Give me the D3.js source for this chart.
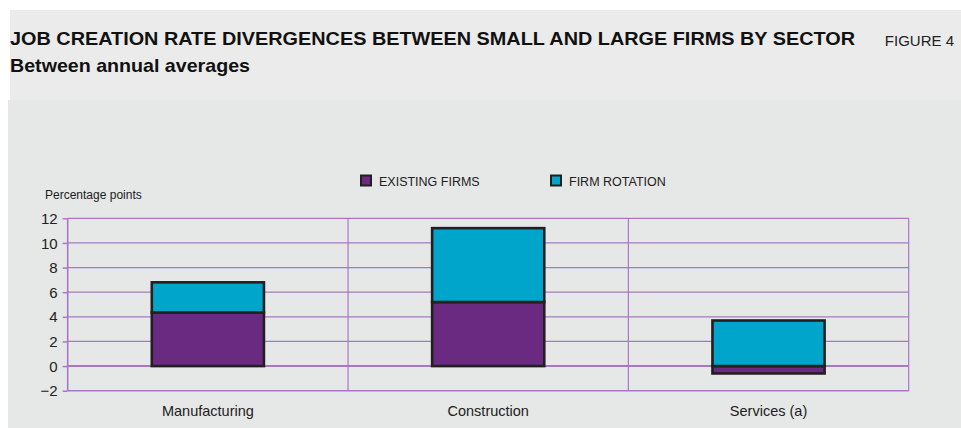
<!DOCTYPE html>
<html><head><meta charset="utf-8">
<script src="https://cdn.jsdelivr.net/npm/d3@7"></script>
<style>
html,body{margin:0;padding:0;background:#fff;}
svg{display:block;}
text{font-family:"Liberation Sans",Arial,sans-serif;}
</style></head>
<body>
<svg id="c" width="961" height="428"></svg>
<script>
const categories = ["Manufacturing", "Construction", "Services (a)"];
const existingFirms = [4.35, 5.2, -0.6];
const firmRotation = [2.45, 6.0, 3.7];
const yTicks = [-2, 0, 2, 4, 6, 8, 10, 12];
const seriesNames = ["EXISTING FIRMS", "FIRM ROTATION"];
const seriesColors = ["#6a2a82", "#00a5cb"];

const svg = d3.select("#c");
// backgrounds
svg.append("rect").attr("x",10).attr("y",10).attr("width",951).attr("height",90).attr("fill","#ebebeb");
svg.append("rect").attr("x",8).attr("y",100).attr("width",953).attr("height",328).attr("fill","#e6e7e7");

// titles
svg.append("text").attr("x",10).attr("y",45).attr("font-size",19).attr("font-weight","bold").attr("fill","#111")
  .attr("textLength",845).attr("lengthAdjust","spacingAndGlyphs")
  .text("JOB CREATION RATE DIVERGENCES BETWEEN SMALL AND LARGE FIRMS BY SECTOR");
svg.append("text").attr("x",954).attr("y",46).attr("font-size",15).attr("fill","#222")
  .attr("text-anchor","end").text("FIGURE 4");
svg.append("text").attr("x",10).attr("y",72).attr("font-size",18.5).attr("font-weight","bold").attr("fill","#111")
  .attr("textLength",240).attr("lengthAdjust","spacingAndGlyphs").text("Between annual averages");

const left = 67.7, right = 908.7;
const x = d3.scaleBand().domain(categories).range([left, right]).paddingInner(0).paddingOuter(0);
const y = d3.scaleLinear().domain([-2, 12]).range([390.7, 218.3]);
const gridColor = "#a878c4";

// horizontal gridlines
const g = svg.append("g");
g.selectAll("line.h").data(yTicks).enter().append("line")
  .attr("x1", left).attr("x2", right)
  .attr("y1", d => y(d)).attr("y2", d => y(d))
  .attr("stroke", gridColor)
  .attr("stroke-width", d => (d === 0 ? 2 : (d === -2 ? 1.6 : 1.2)));
// vertical dividers
const divs = categories.map(c => x(c)).concat([right]);
g.selectAll("line.v").data(divs).enter().append("line")
  .attr("x1", d => d).attr("x2", d => d)
  .attr("y1", y(12)).attr("y2", y(-2))
  .attr("stroke", gridColor).attr("stroke-width", d => d === left ? 1.6 : 1.2);

// y axis ticks & labels
const yAxis = d3.axisLeft(y).tickValues(yTicks).tickSize(5).tickPadding(5).tickFormat(d3.format("d"));
const ya = svg.append("g").attr("transform", `translate(${left},0)`).call(yAxis);
ya.select(".domain").remove();
ya.selectAll(".tick line").attr("stroke", gridColor).attr("stroke-width", 1.5);
ya.selectAll(".tick text").attr("font-family", "Liberation Sans, Arial, sans-serif").attr("font-size", 15).attr("fill", "#222").attr("dy","0.34em");

svg.append("text").attr("x",45).attr("y",199).attr("font-size",12).attr("fill","#222").text("Percentage points");

// category labels
const xAxis = d3.axisBottom(x).tickSize(0).tickPadding(0);
const xa = svg.append("g").attr("transform", `translate(0,${y(-2)})`).call(xAxis);
xa.select(".domain").remove();
xa.selectAll(".tick text").attr("font-family", "Liberation Sans, Arial, sans-serif").attr("font-size", 14.5).attr("fill", "#222").attr("dy", "1.75em");

// stacked bars
const rows = categories.map((c, i) => ({cat: c, existing: existingFirms[i], rotation: firmRotation[i]}));
const barW = x.bandwidth() * 0.4;
const series = [
  rows.map(r => ({cat: r.cat, y0: 0, y1: r.existing})),
  rows.map(r => ({cat: r.cat, y0: r.existing > 0 ? r.existing : 0, y1: (r.existing > 0 ? r.existing : 0) + r.rotation}))
];
series.forEach((s, si) => {
  svg.append("g").selectAll("rect").data(s).enter().append("rect")
    .attr("x", d => x(d.cat) + (x.bandwidth() - barW) / 2)
    .attr("width", barW)
    .attr("y", d => y(Math.max(d.y0, d.y1)))
    .attr("height", d => Math.abs(y(d.y0) - y(d.y1)))
    .attr("fill", seriesColors[si])
    .attr("stroke", "#231f20").attr("stroke-width", 2.6);
});

// legend
const legX = [361, 551];
seriesNames.forEach((n, i) => {
  svg.append("rect").attr("x", legX[i]).attr("y", 175.5).attr("width", 10).attr("height", 10)
    .attr("fill", seriesColors[i]).attr("stroke", "#231f20").attr("stroke-width", 2);
  svg.append("text").attr("x", legX[i] + 18).attr("y", 185.5).attr("font-size", 12.5).attr("fill", "#222").text(n);
});
</script>
</body></html>
